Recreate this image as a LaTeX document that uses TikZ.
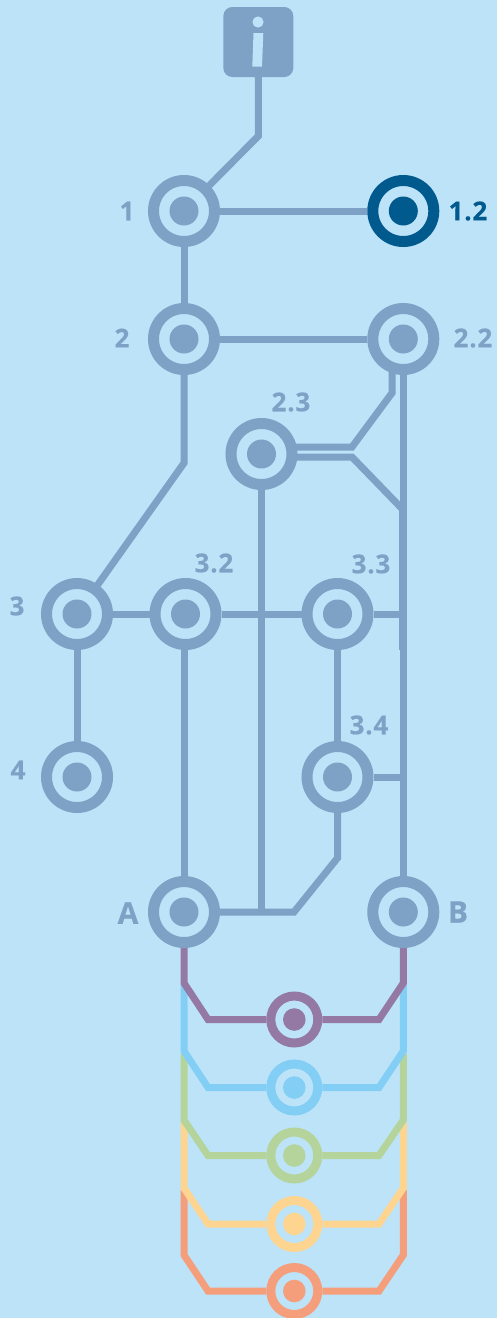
\documentclass[tikz,border=0pt]{standalone}
\usepackage{fontspec}
\setmainfont{Open Sans}[LetterSpace=3,FakeBold=0.3]
\usetikzlibrary{backgrounds}
\definecolor{bgc}{HTML}{BDE3F8}
\definecolor{mainc}{HTML}{7EA1C6}
\definecolor{darkc}{HTML}{005A8E}
\definecolor{purplec}{HTML}{9479A4}
\definecolor{bluec}{HTML}{82CEF5}
\definecolor{greenc}{HTML}{B4D49C}
\definecolor{yellowc}{HTML}{FDD591}
\definecolor{orangec}{HTML}{F59E7C}
\tikzset{
  hub/.style={circle,draw=#1,fill=bgc,line width=11pt,minimum size=61pt,inner sep=0pt,
    path picture={\fill[#1] (path picture bounding box.center) circle (14.5pt);}},
  minihub/.style={circle,draw=#1,fill=bgc,line width=9pt,minimum size=47pt,inner sep=0pt,
    path picture={\fill[#1] (path picture bounding box.center) circle (11.3pt);}},
  wire/.style={draw=#1,line width=7pt,line join=miter,miter limit=4},
  wire/.default=mainc,
  lab/.style={text=#1,font=\fontsize{26}{26}\selectfont\bfseries,inner sep=0pt},
  lab/.default=mainc,
  biglab/.style={lab,font=\fontsize{30}{30}\selectfont\bfseries}
}
\begin{document}
\begin{tikzpicture}[x=1pt,y=-1pt]
\useasboundingbox (0,0) rectangle (497,1318);
% nodes
\node[fill=mainc,rounded corners=9pt,minimum width=70pt,minimum height=70pt,inner sep=0pt] (info) at (258.3,42) {};
\fill[bgc] (258,22) circle (5.6pt);
\fill[bgc] (253.5,33) -- (263.3,33) -- (262,66.7) -- (252.3,66.7) -- cycle;
\node[hub=mainc] (n1) at (184,211) {};
\node[hub=darkc] (n12) at (403.3,211) {};
\node[hub=mainc] (n2) at (184,339) {};
\node[hub=mainc] (n22) at (403.3,339) {};
\node[hub=mainc] (n23) at (261.5,454) {};
\node[hub=mainc] (n3) at (77,614) {};
\node[hub=mainc] (n32) at (185.5,614) {};
\node[hub=mainc] (n33) at (337.5,614) {};
\node[hub=mainc] (n34) at (337.5,777) {};
\node[hub=mainc] (n4) at (77,777) {};
\node[hub=mainc] (nA) at (184,912) {};
\node[hub=mainc] (nB) at (403.3,912) {};
\node[minihub=purplec] (m1) at (294.3,1019.5) {};
\node[minihub=bluec] (m2) at (294.3,1087.5) {};
\node[minihub=greenc] (m3) at (294.3,1155.5) {};
\node[minihub=yellowc] (m4) at (294.3,1224) {};
\node[minihub=orangec] (m5) at (294.3,1291) {};
% labels
\node[lab] (l1) at (127,211) {1};
\node[lab=darkc] (l12) at (468,211) {1.2};
\node[lab] (l2) at (122,338) {2};
\node[lab] (l22) at (473,338) {2.2};
\node[lab] (l23) at (291,402) {2.3};
\node[lab] (l3) at (17,606) {3};
\node[lab] (l32) at (214,563) {3.2};
\node[lab] (l33) at (371,564) {3.3};
\node[lab] (l34) at (369,725) {3.4};
\node[lab] (l4) at (18,770) {4};
\node[biglab] (lA) at (128,913) {A};
\node[biglab] (lB) at (458,912) {B};
% free ends of connectors
\coordinate (c1) at (258.3,136);
\coordinate (c2) at (184,463);
\coordinate (c3) at (392,393);
\coordinate (c4) at (352,447);
\coordinate (c5) at (352,457);
\coordinate (c6) at (403.3,510);
\coordinate (c7) at (403.3,614);
\coordinate (c8) at (403.3,777);
\coordinate (c9) at (337.5,858);
\coordinate (c10) at (294,912);
\coordinate (c11) at (403.3,650);
\begin{scope}[on background layer]
\fill[bgc] (0,0) rectangle (497,1318);
\draw[wire] (info.center) -- (c1) -- (n1.center);
\draw[wire] (n1) -- (n12);
\draw[wire] (n1) -- (n2);
\draw[wire] (n2) -- (n22);
\draw[wire] (n2.center) -- (c2) -- (n3.center);
\draw[wire] (n22) -- (nB);
\draw[wire] (n22.center -| c3) -- (c3) -- (c4) -- (n23.center |- c4);
\draw[wire] (n23.center |- c5) -- (c5) -- (c6);
\draw[wire,line width=7.8pt] (c6) -- (c11);
\draw[wire] (n23) -- (n23.center |- nA);
\draw[wire] (n3) -- (n32);
\draw[wire] (n32) -- (n33);
\draw[wire] (n33) -- (c7);
\draw[wire] (nA.center) -- (nA.center |- n32);
\draw[wire] (n33) -- (n34);
\draw[wire] (n34) -- (c8);
\draw[wire] (n34.center) -- (c9) -- (c10) -- (nA.center);
\draw[wire] (n3) -- (n4);
% coloured loops, lowest first
\draw[wire=orangec] (184,1190) -- (184,1255) -- (208,1291) -- (m5) -- (379,1291) -- (403.3,1255) -- (403.3,1190);
\draw[wire=yellowc] (184,1122) -- (184,1188) -- (208,1224) -- (m4) -- (379,1224) -- (403.3,1188) -- (403.3,1122);
\draw[wire=greenc] (184,1054) -- (184,1120) -- (208,1155.5) -- (m3) -- (379,1155.5) -- (403.3,1120) -- (403.3,1054);
\draw[wire=bluec] (184,985) -- (184,1051) -- (208,1087.5) -- (m2) -- (379,1087.5) -- (403.3,1051) -- (403.3,985);
\draw[wire=purplec] (nA.center) -- (184,983) -- (208,1019.5) -- (m1) -- (379,1019.5) -- (403.3,983) -- (nB.center);
\end{scope}
\end{tikzpicture}
\end{document}
